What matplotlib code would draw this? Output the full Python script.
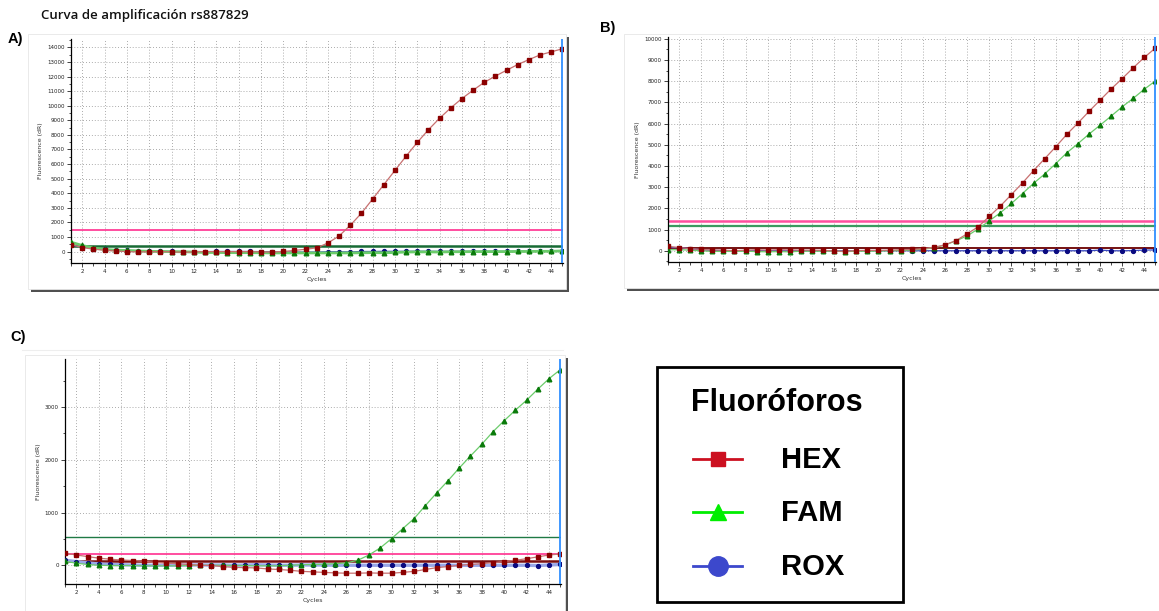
import matplotlib
matplotlib.use("Agg")
import matplotlib.pyplot as plt
from matplotlib.patches import Rectangle
from matplotlib.lines import Line2D
from matplotlib.ticker import MultipleLocator
import numpy as np

W, H = 1159, 611

cycles = list(range(1, 46))

# Panel A
a_hex = [480, 280, 170, 100, 40, 0, -20, -10, 0, -10, -50, -20, 0, 0, 0, 0, 0, -20, -30, 10,
         80, 160, 260, 590, 1070, 1800, 2630, 3600, 4580, 5560, 6540, 7480, 8350, 9140, 9850,
         10490, 11060, 11600, 12030, 12430, 12820, 13160, 13480, 13690, 13900]
a_fam = [650, 420, 250, 150, 100, 80, 50, 20, 10, 0, -10, -30, -60, -60, -70, -70, -70, -80, -90, -90,
         -90, -90, -90, -90, -90, -90, -80, -70, -80, -60, -30, -20, -20, -30, -10, -10, 0, 0, 0, 0,
         10, 10, 20, 20, 50]
a_rox = [450, 320, 200, 150, 110, 90, 60, 30, 20, 10, 0, 0, 0, 10, 10, 10, 10, 0, 0, -20,
         -30, -30, -30, -10, -10, -20, 10, 10, 20, 20, 20, 30, 20, 20, 20, 20, 20, 20, 20, 20,
         20, 20, 20, 20, 40]
a_thr_hex = 1500
a_thr_fam = 390

# Panel B
b_hex = [210, 150, 100, 60, 40, 30, 0, 30, 50, 30, 50, 40, 30, 30, 20, -10, -30, 10, 20, 20,
         30, 50, 60, 100, 160, 280, 480, 800, 1130, 1620, 2110, 2650, 3200, 3780, 4340, 4900,
         5490, 6020, 6570, 7100, 7630, 8120, 8630, 9120, 9560]
b_fam = [50, 50, 30, 0, -30, -30, -30, -20, -40, -50, -40, -50, -20, -20, -20, -20, -40, -20, -20, -10,
         0, 10, 30, 70, 140, 270, 470, 700, 1030, 1410, 1790, 2230, 2700, 3180, 3620, 4110, 4620,
         5050, 5500, 5920, 6350, 6790, 7190, 7620, 8010]
b_rox = [150, 150, 100, 50, 20, 10, 0, 0, 0, 10, 0, 0, 0, 0, 0, 0, 0, 0, 0, 0,
         0, 0, 0, 0, 0, 0, 0, 0, 0, 0, 0, 0, 0, 0, 0, 0, 0, 0, 0, 30,
         0, 0, 10, 30, 40]
b_thr_hex = 1420
b_thr_fam = 1190
b_thr_base = 125

# Panel C
c_hex = [230, 195, 165, 135, 115, 100, 90, 75, 55, 40, 30, 15, 0, -5, -25, -40, -45, -50, -70, -80,
         -95, -115, -125, -135, -145, -150, -150, -145, -150, -150, -135, -115, -80, -45, -25, 0,
         15, 30, 50, 70, 95, 125, 160, 195, 215]
c_fam = [75, 40, 15, 0, -5, -5, -5, -10, -10, -10, -10, -5, 0, 0, 0, -5, -5, -10, -10, -10,
         0, 10, 15, 20, 30, 45, 95, 195, 330, 505, 695, 885, 1130, 1370, 1600, 1840, 2070, 2290,
         2530, 2740, 2940, 3130, 3340, 3540, 3710]
c_rox = [95, 70, 45, 25, 15, 10, 5, 0, 0, 0, 0, 5, 5, 5, 5, 0, 5, 10, 5, 0,
         0, 5, 5, 5, 0, 0, 0, 0, 0, 0, 0, 0, 0, 0, 0, 0, 0, 0, 0, 0,
         0, 0, -5, 5, 15]
c_thr_fam = 535
c_thr_hex = 210
c_thr_base = 80

title_text = "Curva de amplificación rs887829"
legend_title = "Fluoróforos"
legend_names = ["HEX", "FAM", "ROX"]

fig = plt.figure(figsize=(W / 100, H / 100), dpi=100)
fig.patch.set_facecolor("white")


def fx(x):
    return x / W


def fy(y):
    return 1 - y / H


def frame(x0, y0, x1, y1, shadow=3):
    fig.patches.append(Rectangle((fx(x0 + shadow), fy(y1 + shadow)), fx(x1 - x0), (y1 - y0) / H,
                                 transform=fig.transFigure, facecolor="#505050", edgecolor="none", zorder=0))
    fig.patches.append(Rectangle((fx(x0), fy(y1)), fx(x1 - x0), (y1 - y0) / H,
                                 transform=fig.transFigure, facecolor="white", edgecolor="#e6e6e6",
                                 linewidth=0.6, zorder=0.5))


def make_axes(x0, y0, x1, y1):
    ax = fig.add_axes([fx(x0), fy(y1), fx(x1 - x0), (y1 - y0) / H])
    ax.set_facecolor("none")
    ax.set_zorder(3)
    return ax


def style(ax, ylim, major, minor):
    ax.set_xlim(1, 45.05)
    ax.set_ylim(*ylim)
    ax.xaxis.set_major_locator(MultipleLocator(2))
    ax.xaxis.set_minor_locator(MultipleLocator(1))
    ax.yaxis.set_major_locator(MultipleLocator(major))
    ax.yaxis.set_minor_locator(MultipleLocator(minor))
    ax.set_xticks(list(range(2, 45, 2)))
    ax.spines["top"].set_visible(False)
    ax.spines["right"].set_visible(False)
    ax.spines["left"].set_linewidth(0.9)
    ax.spines["bottom"].set_linewidth(0.9)
    ax.tick_params(axis="both", which="major", labelsize=4, length=3, width=0.6, pad=1.5, colors="#222222")
    ax.tick_params(axis="both", which="minor", length=1.8, width=0.5)
    ax.grid(True, which="major", linestyle=(0, (1, 2.5)), color="#8f8f8f", linewidth=0.6)
    ax.set_axisbelow(True)
    ax.set_xlabel("Cycles", fontsize=4.5, labelpad=2, color="#333333")
    ax.set_ylabel("Fluorescence (dR)", fontsize=4.5, labelpad=3, color="#333333")


HEX_LINE, HEX_MK = "#c87070", "#8b0000"
FAM_LINE, FAM_MK = "#6ccc6c", "#0a7a0a"
ROX_LINE, ROX_MK = "#3a4ac0", "#0a0a80"


def series(ax, rox, fam, hexs, rox_lw=0.9, fam_lw=0.9, rox_col=ROX_LINE):
    ax.plot(cycles, rox, color=rox_col, lw=rox_lw, marker="o", ms=2.8, mfc=ROX_MK, mec=ROX_MK, zorder=3)
    ax.plot(cycles, fam, color=FAM_LINE, lw=fam_lw, marker="^", ms=3.3, mfc=FAM_MK, mec=FAM_MK, zorder=4)
    ax.plot(cycles, hexs, color=HEX_LINE, lw=0.9, marker="s", ms=3.3, mfc=HEX_MK, mec=HEX_MK, zorder=5)


def vline(ax):
    ax.axvline(45, color="#2f8fff", lw=1.3, zorder=6)


# ---- Panel A
frame(28, 34, 566, 289)
axA = make_axes(71, 39, 563, 263)
style(axA, (-780, 14570), 1000, 500)
series(axA, a_rox, a_fam, a_hex, fam_lw=2.0)
axA.axhline(a_thr_hex, color="#ff2f8f", lw=1.2, zorder=2)
axA.axhline(a_thr_fam, color="#176b34", lw=1.8, zorder=2)
vline(axA)

# ---- Panel B
frame(624, 34, 1162, 288)
axB = make_axes(668, 37, 1156, 262)
style(axB, (-530, 10080), 1000, 500)
series(axB, b_rox, b_fam, b_hex)
axB.axhline(b_thr_hex, color="#ff4f9f", lw=1.8, zorder=2)
axB.axhline(b_thr_fam, color="#3c9a60", lw=1.6, zorder=2)
axB.axhline(b_thr_base, color="#6b0000", lw=1.3, zorder=2)
vline(axB)

# ---- Panel C
fig.add_artist(Line2D([fx(22), fx(563)], [fy(350), fy(350)], transform=fig.transFigure,
                      color="#eeeeee", lw=0.8))
frame(25, 355, 565, 615)
axC = make_axes(65, 359, 561, 584)
style(axC, (-355, 3910), 1000, 500)
series(axC, c_rox, c_fam, c_hex, rox_lw=2.4, rox_col="#9aa8e8")
axC.axhline(c_thr_fam, color="#1f7a45", lw=1.0, zorder=2)
axC.axhline(c_thr_hex, color="#ff2f8f", lw=1.2, zorder=2)
axC.axhline(c_thr_base, color="#7a1010", lw=1.8, zorder=2)
vline(axC)

# ---- Titles and labels
fig.text(fx(41), fy(15), title_text, fontsize=9.5, fontweight="semibold", family="Open Sans",
         ha="left", va="center", color="#111111")
fig.text(fx(8), fy(39), "A)", fontsize=10.5, fontweight="bold", family="Liberation Sans", ha="left", va="center")
fig.text(fx(600), fy(28), "B)", fontsize=10.5, fontweight="bold", family="Liberation Sans", ha="left", va="center")
fig.text(fx(10), fy(337), "C)", fontsize=10.5, fontweight="bold", family="Liberation Sans", ha="left", va="center")

# ---- Legend box
fig.patches.append(Rectangle((fx(657), fy(602)), fx(903 - 657), (602 - 367) / H, transform=fig.transFigure,
                             facecolor="white", edgecolor="black", linewidth=2.0, zorder=1))
fig.text(fx(777), fy(403), legend_title, fontsize=22, fontweight="bold", family="Liberation Sans",
         ha="center", va="center")
leg_colors = ["#cc1020", "#00ee00", "#3c48cc"]
leg_markers = ["s", "^", "o"]
leg_ms = [10, 12, 14]
leg_y = [459, 512, 566]
for name, col, mk, ms, yy in zip(legend_names, leg_colors, leg_markers, leg_ms, leg_y):
    fig.add_artist(Line2D([fx(693), fx(742)], [fy(yy), fy(yy)], transform=fig.transFigure,
                          color=col, lw=2.0))
    fig.add_artist(Line2D([fx(717.5)], [fy(yy)], transform=fig.transFigure, color=col, marker=mk,
                          ms=ms, mfc=col, mec=col, lw=0))
    fig.text(fx(781), fy(yy + 1), name, fontsize=21, fontweight="bold", family="Liberation Sans",
             ha="left", va="center")

fig.savefig("out.png", dpi=100, facecolor="white")
